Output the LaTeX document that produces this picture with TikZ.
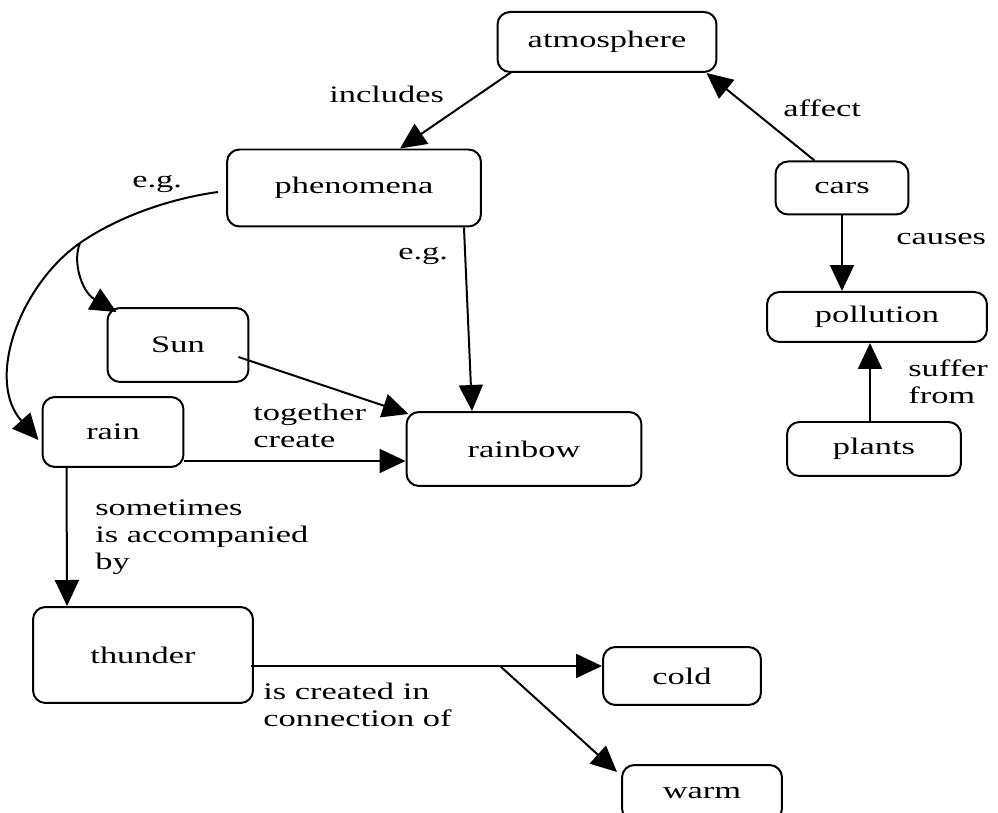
\documentclass[tikz,border=0pt]{standalone}
\usepackage{fontspec}
\setmainfont{Liberation Serif}[FakeStretch=1.45]
\usetikzlibrary{arrows.meta, positioning, calc}

\begin{document}
\begin{tikzpicture}[x=0.02cm, y=-0.02cm,
    font=\fontsize{13.5}{15.4}\selectfont,
    concept/.style={rectangle, rounded corners=0.25cm, draw, line width=0.04cm,
                    align=center, inner sep=0pt},
    link/.style={line width=0.04cm, -{Triangle[length=0.52cm, width=0.48cm]}},
    plainlink/.style={line width=0.04cm},
    tag/.style={align=left, inner sep=0pt, anchor=base west}]

  \useasboundingbox (0,0) rectangle (998,813);

  % ===== concepts =====
  \node[concept, minimum width=4.38cm, minimum height=1.2cm]  (atmos)   at (607,42)  {atmosphere};
  \node[concept, minimum width=5.08cm, minimum height=1.54cm] (phen)    at (354,188) {phenomena};
  \node[concept, minimum width=2.66cm, minimum height=1.06cm] (cars)    at (842,188) {cars};
  \node[concept, minimum width=4.4cm,  minimum height=1.0cm]  (pollut)  at (877,317) {pollution};
  \node[concept, minimum width=2.82cm, minimum height=1.48cm] (sun)     at (178,345) {Sun};
  \node[concept, minimum width=2.82cm, minimum height=1.4cm]  (rain)    at (113,432) {rain};
  \node[concept, minimum width=4.7cm,  minimum height=1.48cm] (rainbow) at (524,449) {rainbow};
  \node[concept, minimum width=3.48cm, minimum height=1.08cm] (plants)  at (874,449) {plants};
  \node[concept, minimum width=4.4cm,  minimum height=1.92cm] (thunder) at (143,655) {thunder};
  \node[concept, minimum width=3.16cm, minimum height=1.16cm] (cold)    at (682,676) {cold};
  \node[concept, minimum width=3.2cm,  minimum height=1.12cm] (warm)    at (702,793) {warm};

  % ===== links =====
  \draw[link] ($(atmos.south west)+(15,-1)$) -- ($(phen.north)+(46,0)$);
  \draw[link] ($(cars.north west)+(40,0)$) -- ($(atmos.south east)+(-11,0)$);
  \draw[link] (cars) -- (pollut.north -| cars);
  \draw[link] ($(plants.north)+(-4,0)$) -- ($(pollut.south)+(-7,0)$);

  % e.g. -> Sun / rain (shared stem)
  \coordinate (fork) at (80,243);
  \draw[plainlink] ($(phen.west)+(-8,4)$) .. controls (160,200) and (110,222) .. (fork);
  \draw[link] (fork) .. controls (20,285) and (-15,380) .. ($(rain.west)+(-3,8)$);
  \draw[link] (fork) .. controls (72,262) and (82,292) .. ($(sun.north west)+(10,5)$);

  \draw[link] ($(phen.south east)+(-18,0)$) -- ($(rainbow.north)+(-52,0)$);
  \draw[link] ($(sun.east)+(-11,12)$) -- ($(rainbow.north west)+(3,3)$);
  \draw[link] ($(rain.east)+(0,29)$) -- ($(rainbow.west)+(0,12)$);
  \draw[link] ($(rain.south west)+(25,0)$) -- ($(thunder.north west)+(35,0)$);

  % thunder -> cold / warm
  \coordinate (split) at (500,666);
  \draw[link] ($(thunder.east)+(-3,11)$) -- ($(cold.west)+(0,-10)$);
  \draw[link] (split) -- ($(warm.north west)+(-4,8)$);

  % ===== link labels (base = last line) =====
  \node[tag] (lincl)  at (329,103)   {includes};
  \node[tag] (laff)   at (783,117)   {affect};
  \node[tag] (leg1)   at (132,188)   {e.g.};
  \node[tag] (leg2)   at (398,260)   {e.g.};
  \node[tag] (lcaus)  at (896,245)   {causes};
  \node[tag] (lsuff)  at (908,404)   {suffer\\from};
  \node[tag] (ltog)   at (253,448)   {together\\create};
  \node[tag] (lsome)  at (95,570)    {sometimes\\is accompanied\\by};
  \node[tag] (lconn)  at (263,727)   {is created in\\connection of};

\end{tikzpicture}
\end{document}
